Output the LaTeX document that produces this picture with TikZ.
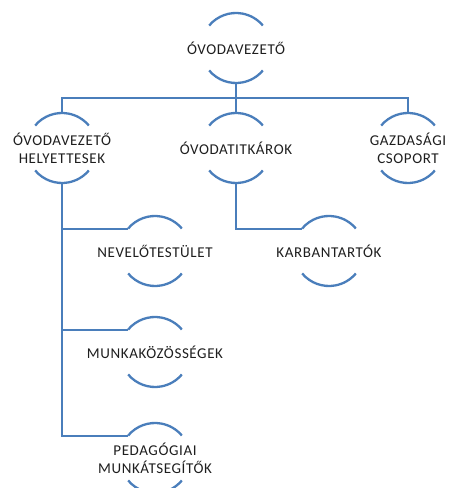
\documentclass[tikz,border=0pt]{standalone}
\usepackage{fontspec}
\setmainfont{Carlito}[LetterSpace=4]
\definecolor{orgblue}{HTML}{4A7EBB}
\definecolor{orgtext}{HTML}{1E1E1E}
\begin{document}
\begin{tikzpicture}[x=1pt,y=1pt,
  orgnode/.style={rectangle,inner sep=0pt,align=center,
    text=orgtext,font=\fontsize{15}{18}\selectfont},
  link/.style={draw=orgblue,line width=2pt},
  rim/.style={draw=orgblue,line width=2.3pt}]
\useasboundingbox (0,0) rectangle (448,488);
\node[orgnode] (top) at (236,440) {ÓVODAVEZETŐ};
\node[orgnode] (hely) at (62,340) {ÓVODAVEZETŐ\\HELYETTESEK};
\node[orgnode] (tit) at (236,340) {ÓVODATITKÁROK};
\node[orgnode] (gaz) at (408,340) {GAZDASÁGI\\CSOPORT};
\node[orgnode] (nev) at (155,237) {NEVELŐTESTÜLET};
\node[orgnode] (kar) at (329,237) {KARBANTARTÓK};
\node[orgnode] (mun) at (155,136) {MUNKAKÖZÖSSÉGEK};
\node[orgnode] (ped) at (155,30) {PEDAGÓGIAI\\MUNKÁTSEGÍTŐK};
\foreach \n in {top,hely,tit,gaz,nev,kar,mun,ped}{
  \draw[rim] ([shift={(140:35)}]\n.center) arc[start angle=140,end angle=40,radius=35pt];
  \draw[rim] ([shift={(-140:35)}]\n.center) arc[start angle=-140,end angle=-40,radius=35pt];
}
\coordinate (busL) at (62,390);
\draw[link] ([yshift=-35pt]top.center) -- ([yshift=35pt]tit.center);
\draw[link] ([yshift=35pt]hely.center) -- (busL) -| ([yshift=35pt]gaz.center);
\draw[link] ([yshift=-35pt]hely.center) |- ([shift={(140:35)}]ped.center);
\draw[link] ([yshift=-35pt]hely.center) |- ([shift={(140:35)}]nev.center);
\draw[link] ([yshift=-35pt]hely.center) |- ([shift={(140:35)}]mun.center);
\draw[link] ([yshift=-35pt]tit.center) |- ([shift={(140:35)}]kar.center);
\end{tikzpicture}
\end{document}
